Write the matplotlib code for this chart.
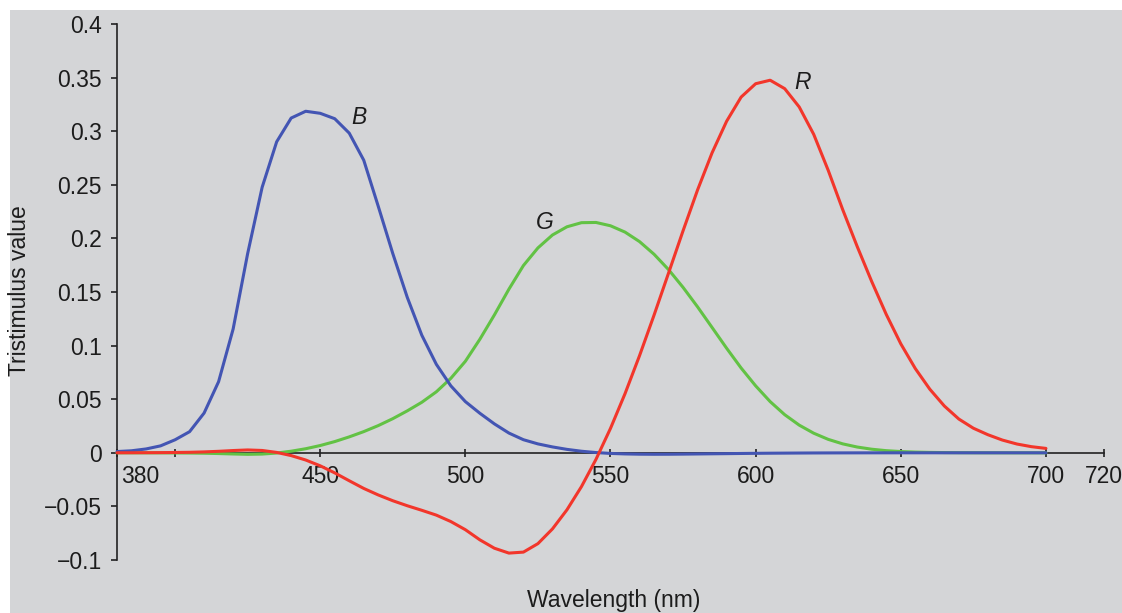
import numpy as np
import matplotlib
matplotlib.use("Agg")
import matplotlib.pyplot as plt
from matplotlib.patches import Rectangle
from matplotlib.transforms import ScaledTranslation

# Colour-matching (tristimulus) values, 380-700 nm in 5 nm steps
wavelength = list(range(380, 705, 5))
r_bar = [0.00003, 0.00005, 0.00010, 0.00017, 0.00030, 0.00047, 0.00084, 0.00139,
         0.00211, 0.00266, 0.00218, 0.00036, -0.00261, -0.00673, -0.01213, -0.01874,
         -0.02608, -0.03324, -0.03933, -0.04471, -0.04939, -0.05364, -0.05814, -0.06414,
         -0.07173, -0.08120, -0.08901, -0.09356, -0.09264, -0.08473, -0.07101, -0.05316,
         -0.03152, -0.00613, 0.02279, 0.05514, 0.09060, 0.12840, 0.16768, 0.20715,
         0.24526, 0.27989, 0.30928, 0.33184, 0.34429, 0.34756, 0.33971, 0.32265,
         0.29708, 0.26348, 0.22677, 0.19233, 0.15968, 0.12905, 0.10167, 0.07857,
         0.05932, 0.04366, 0.03149, 0.02294, 0.01687, 0.01187, 0.00819, 0.00572,
         0.00410]
g_bar = [-0.00001, -0.00002, -0.00004, -0.00007, -0.00014, -0.00022, -0.00041, -0.00070,
         -0.00110, -0.00143, -0.00119, -0.00021, 0.00149, 0.00379, 0.00678, 0.01046,
         0.01485, 0.01977, 0.02538, 0.03183, 0.03914, 0.04713, 0.05689, 0.06948,
         0.08536, 0.10593, 0.12860, 0.15262, 0.17468, 0.19113, 0.20317, 0.21083,
         0.21466, 0.21487, 0.21178, 0.20588, 0.19702, 0.18522, 0.17087, 0.15429,
         0.13610, 0.11686, 0.09754, 0.07909, 0.06246, 0.04776, 0.03557, 0.02583,
         0.01828, 0.01253, 0.00833, 0.00537, 0.00334, 0.00199, 0.00116, 0.00066,
         0.00037, 0.00021, 0.00011, 0.00006, 0.00003, 0.00001, 0.00000, 0.00000,
         0.00000]
b_bar = [0.00117, 0.00189, 0.00359, 0.00647, 0.01214, 0.01969, 0.03707, 0.06637,
         0.11541, 0.18575, 0.24769, 0.29012, 0.31228, 0.31860, 0.31670, 0.31166,
         0.29821, 0.27295, 0.22991, 0.18592, 0.14494, 0.10968, 0.08257, 0.06246,
         0.04776, 0.03688, 0.02698, 0.01842, 0.01221, 0.00830, 0.00549, 0.00320,
         0.00146, 0.00023, -0.00058, -0.00105, -0.00130, -0.00138, -0.00135, -0.00123,
         -0.00108, -0.00093, -0.00079, -0.00063, -0.00049, -0.00038, -0.00030, -0.00022,
         -0.00015, -0.00011, -0.00008, -0.00005, -0.00003, -0.00002, -0.00001, -0.00001,
         0.00000, 0.00000, 0.00000, 0.00000, 0.00000, 0.00000, 0.00000, 0.00000,
         0.00000]

x_ticks = [380, 400, 450, 500, 550, 600, 650, 700, 720]
x_tick_labels = ["380", "", "450", "500", "550", "600", "650", "700", "720"]
y_ticks = [-0.1, -0.05, 0, 0.05, 0.1, 0.15, 0.2, 0.25, 0.3, 0.35, 0.4]
y_tick_labels = ["\u22120.1", "\u22120.05", "0", "0.05", "0.1", "0.15", "0.2",
                 "0.25", "0.3", "0.35", "0.4"]

curve_labels = ["R", "G", "B"]
label_pos = [(616, 0.345), (527.5, 0.215), (463.5, 0.313)]

plt.rcParams["font.family"] = ["Liberation Sans", "DejaVu Sans"]
TXT = "#1c1c1c"
FS = 16.5

W, H = 1122, 613
fig = plt.figure(figsize=(W / 100, H / 100), dpi=100, facecolor="white")
fig.patches.append(Rectangle((10 / W, 0), 1 - 10 / W, 1 - 10 / H,
                             transform=fig.transFigure, facecolor="#d4d5d7",
                             edgecolor="none", zorder=-10))

ax = fig.add_axes([117 / W, 1 - 560 / H, (1104 - 117) / W, (560 - 24) / H])
ax.set_facecolor("none")
ax.set_xlim(380, 720)
ax.set_ylim(-0.1, 0.4)

line_kw = dict(lw=2.2, clip_on=False, solid_joinstyle="round", solid_capstyle="round")
ax.plot(wavelength, g_bar, color="#62c244", zorder=3, **line_kw)
ax.plot(wavelength, b_bar, color="#4355b3", zorder=4, **line_kw)
ax.plot(wavelength, r_bar, color="#f2362b", zorder=5, **line_kw)

for name, (lx, ly) in zip(curve_labels, label_pos):
    ax.text(lx, ly, name, fontsize=FS, style="italic", color=TXT,
            ha="center", va="center")

for side in ("top", "right"):
    ax.spines[side].set_visible(False)
ax.spines["bottom"].set_position(("data", 0))
for side in ("left", "bottom"):
    ax.spines[side].set_linewidth(1.2)
    ax.spines[side].set_color("#222222")
    ax.spines[side].set_zorder(2)

ax.set_xticks(x_ticks)
ax.set_xticklabels(x_tick_labels)
ax.set_yticks(y_ticks)
ax.set_yticklabels(y_tick_labels)
ax.tick_params(axis="x", direction="inout", length=6, width=1.2, color="#222222",
               pad=6, labelsize=FS, labelcolor=TXT)
ax.tick_params(axis="y", direction="out", length=4, width=1.2, color="#222222",
               pad=7, labelsize=FS, labelcolor=TXT)

# The first wavelength label sits to the right of the vertical axis
first = ax.get_xticklabels()[0]
first.set_horizontalalignment("left")
first.set_transform(first.get_transform() + ScaledTranslation(3 / 72, 0, fig.dpi_scale_trans))

fig.text(20 / W, 1 - 291 / H, "Tristimulus value", rotation=90, fontsize=FS,
         color=TXT, ha="center", va="center")
fig.text(614 / W, 1 - 600 / H, "Wavelength (nm)", fontsize=FS,
         color=TXT, ha="center", va="center")

fig.savefig("out.png", dpi=100, facecolor=fig.get_facecolor())
